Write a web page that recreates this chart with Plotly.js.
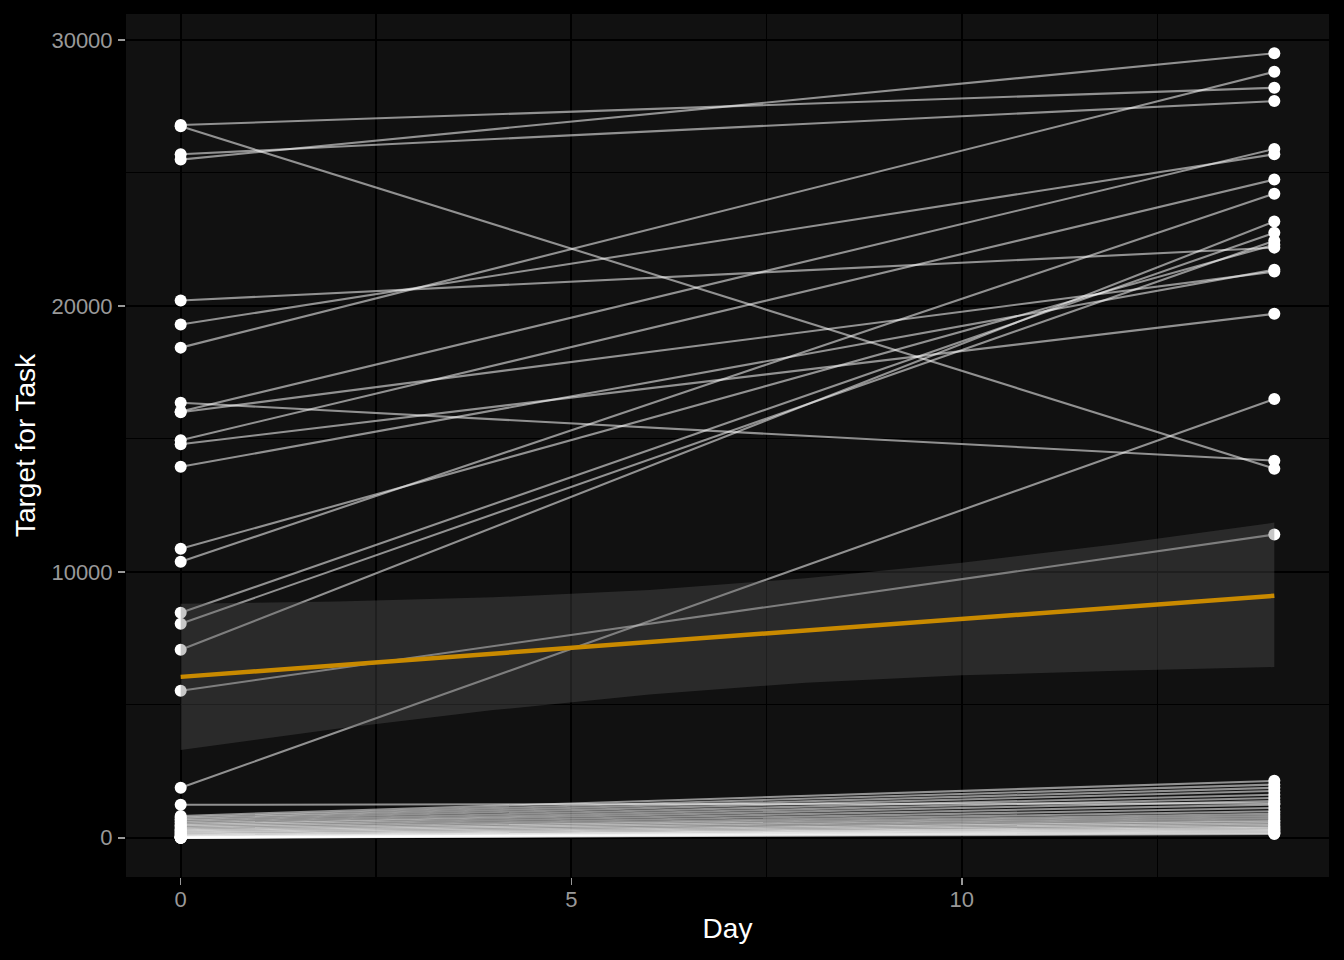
<!DOCTYPE html>
<html>
<head>
<meta charset="utf-8">
<script src="https://cdn.plot.ly/plotly-3.0.1.min.js"></script>
<style>html,body{margin:0;padding:0;background:#000;}#chart{width:1344px;height:960px;}</style>
</head>
<body>
<div id="chart"></div>
<script>
// Days measured
const days = [0, 14];

// Target for Task per subject: day 0 and day 14 values
const subjectDay0 = [
  26800, 26750, 25700, 25500, 20200, 19300, 18430, 16360, 16030, 16000,
  14950, 14800, 13950, 10870, 10380, 8460, 8050, 7070, 5530, 1880,
  1240, 820, 760, 700, 640, 580, 520, 470, 420, 370, 320, 280, 240, 200,
  160, 120, 90, 60, 40, 20, 10, 0, 0, 0, 0, 0
];
const subjectDay14 = [
  28200, 13880, 27700, 29500, 22190, 25700, 28800, 14180, 25900, 21290,
  24750, 19700, 21360, 22300, 24220, 22750, 22450, 23170, 11400, 16500,
  1300, 2140, 2000, 1880, 1760, 1620, 1500, 1380, 1250, 1120, 1000, 900, 820, 740,
  660, 600, 540, 480, 420, 380, 330, 290, 250, 210, 170, 140
];

// Linear fit and its confidence band
const fitDays = [0, 14];
const fitValues = [6050, 9100];
const bandDays = [0, 2, 4, 6, 8, 10, 12, 14];
const bandUpper = [8800, 8880, 9040, 9320, 9760, 10340, 11050, 11850];
const bandLower = [3300, 4100, 4800, 5390, 5830, 6110, 6280, 6420];

// Tick labels
const xTicks = [0, 5, 10];
const yTicks = [0, 10000, 20000, 30000];

const traces = [];
for (let i = 0; i < subjectDay0.length; i++) {
  traces.push({
    type: 'scatter', mode: 'lines',
    x: days, y: [subjectDay0[i], subjectDay14[i]],
    line: {color: 'rgba(255,255,255,0.54)', width: 2.1},
    hoverinfo: 'skip', showlegend: false
  });
}
const ptsX = [], ptsY = [];
for (let i = 0; i < subjectDay0.length; i++) {
  ptsX.push(days[0], days[1]);
  ptsY.push(subjectDay0[i], subjectDay14[i]);
}
traces.push({
  type: 'scatter', mode: 'markers', x: ptsX, y: ptsY,
  marker: {color: '#ffffff', size: 12, line: {width: 0}},
  showlegend: false
});
traces.push({
  type: 'scatter', mode: 'lines',
  x: bandDays.concat(bandDays.slice().reverse()),
  y: bandUpper.concat(bandLower.slice().reverse()),
  fill: 'toself', fillcolor: 'rgba(91,91,91,0.34)',
  line: {width: 0, color: 'rgba(0,0,0,0)'},
  hoverinfo: 'skip', showlegend: false
});
traces.push({
  type: 'scatter', mode: 'lines', x: fitDays, y: fitValues,
  line: {color: '#c98a00', width: 4.5}, showlegend: false
});

const layout = {
  width: 1344, height: 960,
  paper_bgcolor: '#000000', plot_bgcolor: '#111111',
  margin: {l: 126, r: 15, t: 14, b: 83},
  font: {family: 'Liberation Sans, Arial, sans-serif'},
  showlegend: false,
  xaxis: {
    range: [-0.7, 14.7], tickvals: xTicks, ticktext: xTicks.map(String),
    showgrid: true, gridcolor: '#000000', gridwidth: 2.2,
    minor: {dtick: 2.5, tick0: 0, showgrid: true, gridcolor: '#000000', gridwidth: 1.1},
    zeroline: false, showline: false,
    ticks: 'outside', ticklen: 7, tickwidth: 1.5, tickcolor: '#999999',
    tickfont: {size: 22, color: '#999999'}, ticklabelstandoff: -4,
    title: {text: 'Day', font: {size: 28, color: '#ffffff'}, standoff: 6}
  },
  yaxis: {
    range: [-1475, 30975], tickvals: yTicks, ticktext: yTicks.map(String),
    showgrid: true, gridcolor: '#000000', gridwidth: 2.2,
    minor: {dtick: 5000, tick0: 0, showgrid: true, gridcolor: '#000000', gridwidth: 1.1},
    zeroline: false, showline: false,
    ticks: 'outside', ticklen: 7, tickwidth: 1.5, tickcolor: '#999999',
    tickfont: {size: 22, color: '#999999'}, ticklabelstandoff: 1,
    title: {text: 'Target for Task', font: {size: 28, color: '#ffffff'}, standoff: 7}
  }
};

Plotly.newPlot('chart', traces, layout, {displayModeBar: false, staticPlot: true});
</script>
</body>
</html>
